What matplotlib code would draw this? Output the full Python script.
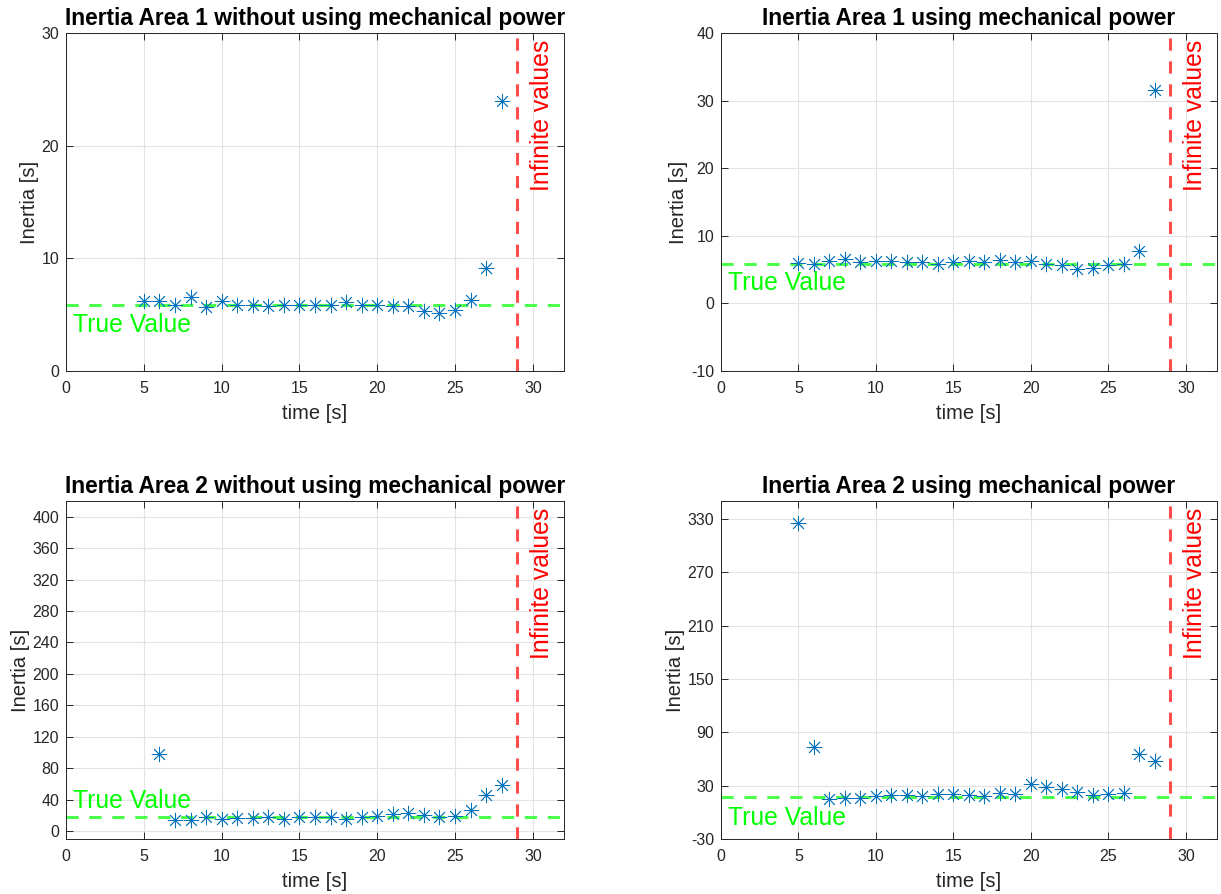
import numpy as np
import matplotlib.pyplot as plt
from matplotlib.transforms import blended_transform_factory

plt.rcParams['font.family'] = ['Liberation Sans', 'DejaVu Sans']
plt.rcParams['axes.unicode_minus'] = False

# Sample times (s) for each estimate
t_a1 = [5, 6, 7, 8, 9, 10, 11, 12, 13, 14, 15, 16, 17, 18, 19, 20, 21, 22, 23, 24, 25, 26, 27, 28]
t_a2 = [6, 7, 8, 9, 10, 11, 12, 13, 14, 15, 16, 17, 18, 19, 20, 21, 22, 23, 24, 25, 26, 27, 28]
t_a2_mech = [5, 6, 7, 8, 9, 10, 11, 12, 13, 14, 15, 16, 17, 18, 19, 20, 21, 22, 23, 24, 25, 26, 27, 28]

# Inertia estimates (s)
h_a1_nomech = [6.2, 6.2, 5.9, 6.6, 5.7, 6.2, 5.9, 5.9, 5.8, 5.9, 5.9, 5.9, 5.9, 6.1,
               5.9, 5.9, 5.8, 5.75, 5.3, 5.15, 5.45, 6.3, 9.1, 24.0]
h_a1_mech = [6.0, 5.8, 6.3, 6.6, 6.1, 6.3, 6.3, 6.1, 6.1, 5.8, 6.1, 6.3, 6.1, 6.4,
             6.1, 6.3, 5.9, 5.7, 5.1, 5.3, 5.7, 5.8, 7.8, 31.5]
h_a2_nomech = [98, 14, 14, 18, 15, 17, 17, 18, 16, 18, 18, 18, 16, 18, 19, 21.5,
               22.5, 20, 18, 19, 26.5, 45.5, 58.5]
h_a2_mech = [325, 74, 15, 16.5, 16.5, 18, 19.5, 19, 18, 20.5, 20.5, 19.5, 18, 22,
             20.5, 32, 28, 26, 23, 19.5, 20.5, 21.5, 65.5, 57.5]

true_a1 = 5.9
true_a2 = 17.5
t_inf = 29

titles = [
    'Inertia Area 1 without using mechanical power',
    'Inertia Area 1 using mechanical power',
    'Inertia Area 2 without using mechanical power',
    'Inertia Area 2 using mechanical power',
]

panels = [
    (t_a1, h_a1_nomech, true_a1, (0, 30), np.arange(0, 31, 10), 4.1),
    (t_a1, h_a1_mech, true_a1, (-10, 40), np.arange(-10, 41, 10), 3.0),
    (t_a2, h_a2_nomech, true_a2, (-10, 420), np.arange(0, 401, 40), 39),
    (t_a2_mech, h_a2_mech, true_a2, (-30, 350), np.arange(-30, 331, 60), -6),
]

fig = plt.figure(figsize=(12.21, 8.94), dpi=100)
fig.patch.set_facecolor('white')

positions = [
    [0.0541, 0.5850, 0.4078, 0.3781],
    [0.5905, 0.5850, 0.4062, 0.3781],
    [0.0541, 0.0615, 0.4078, 0.3781],
    [0.5905, 0.0615, 0.4062, 0.3781],
]

blue = '#0072BD'
dark = '#262626'

for pos, title, (t, h, true_val, ylim, yticks, txt_y) in zip(positions, titles, panels):
    ax = fig.add_axes(pos)
    ax.set_xlim(0, 32)
    ax.set_ylim(*ylim)
    ax.set_xticks(np.arange(0, 31, 5))
    ax.set_yticks(yticks)
    ax.grid(True, color='#e3e3e3', linewidth=0.8)
    ax.set_axisbelow(True)
    ax.tick_params(direction='in', top=True, right=True, length=5, width=0.7,
                   colors=dark, labelsize=11.5)
    ax.tick_params(axis='x', pad=7)
    ax.tick_params(axis='y', pad=5)
    for sp in ax.spines.values():
        sp.set_color(dark)
        sp.set_linewidth(0.7)

    # reference and infinite-value boundaries
    ax.plot([0, 32], [true_val, true_val], color='#4dff4d', linewidth=2.2,
            dashes=(4, 3.5), zorder=2)
    ax.axvline(t_inf, color='#ff4d4d', linewidth=2.2, dashes=(4, 3.5), zorder=2)

    ax.plot(t, h, linestyle='none', marker=(8, 2, 0), markersize=11,
            markeredgewidth=0.6, color=blue, zorder=3)

    ax.text(0.45, txt_y, 'True Value', color='#00ff00', fontsize=17.8,
            va='center', ha='left')
    tr = blended_transform_factory(ax.transData, ax.transAxes)
    ax.text(29.8, 0.98, 'Infinite values', color='#ff0000', fontsize=17.8,
            rotation=90, va='top', ha='left', transform=tr)

    ax.set_title(title, fontsize=16.4, fontweight='bold', pad=6, color='black')
    ax.set_xlabel('time [s]', fontsize=14.5, color=dark, labelpad=6)
    ax.set_ylabel('Inertia [s]', fontsize=14.5, color=dark, labelpad=2)

fig.savefig('out.png', dpi=100)
